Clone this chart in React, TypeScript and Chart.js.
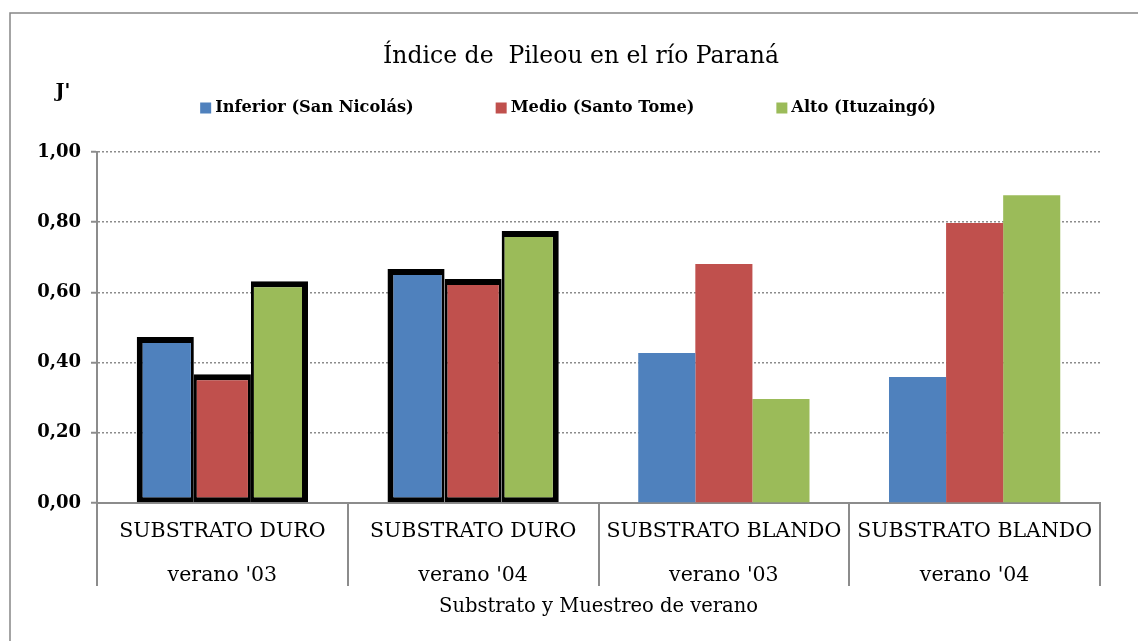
import React, { useEffect, useRef } from 'react';
import { Chart, registerables } from 'chart.js';

Chart.register(...registerables);

const categories: string[][] = [
  ['SUBSTRATO DURO', "verano '03"],
  ['SUBSTRATO DURO', "verano '04"],
  ['SUBSTRATO BLANDO', "verano '03"],
  ['SUBSTRATO BLANDO', "verano '04"],
];
const seriesNames = ['Inferior (San Nicolás)', 'Medio (Santo Tome)', 'Alto (Ituzaingó)'];
const seriesColors = ['#4F81BD', '#C0504D', '#9BBB59'];
const inferior = [0.473, 0.667, 0.427, 0.359];
const medio = [0.367, 0.638, 0.681, 0.798];
const alto = [0.632, 0.775, 0.296, 0.877];
const outlined = [true, true, false, false];
const yMin = 0;
const yMax = 1;
const yStep = 0.2;
const chartTitle = 'Índice de  Pileou en el río Paraná';
const yTitle = "J'";
const xTitle = 'Substrato y Muestreo de verano';

const FONT = '"DejaVu Serif", serif';

const decor = {
  id: 'decor',
  beforeDraw(chart: any) {
    const ctx = chart.ctx;
    ctx.save();
    ctx.strokeStyle = '#868686';
    ctx.lineWidth = 1.5;
    ctx.beginPath();
    ctx.moveTo(10, chart.height);
    ctx.lineTo(10, 13);
    ctx.lineTo(chart.width, 13);
    ctx.stroke();
    ctx.restore();
  },
  afterDraw(chart: any) {
    const ctx = chart.ctx;
    ctx.save();
    ctx.fillStyle = '#000';
    ctx.textBaseline = 'middle';
    ctx.textAlign = 'center';
    ctx.font = `23.5px ${FONT}`;
    ctx.fillText(chartTitle, 581, 57);
    ctx.font = `bold 19px ${FONT}`;
    ctx.fillText(yTitle, 63, 92);

    // legend
    const ds = chart.data.datasets;
    ctx.font = `bold 16.2px ${FONT}`;
    const box = 11;
    const gapText = 4;
    const gapItem = 82;
    const widths = ds.map((d: any) => ctx.measureText(d.label).width);
    const total = widths.reduce((a: number, w: number) => a + box + gapText + w, 0) + gapItem * (ds.length - 1);
    let x = 568 - total / 2;
    const ly = 108;
    ctx.textAlign = 'left';
    ds.forEach((d: any, i: number) => {
      ctx.fillStyle = d.backgroundColor;
      ctx.fillRect(x, ly - box / 2, box, box);
      ctx.fillStyle = '#000';
      ctx.fillText(d.label, x + box + gapText, ly);
      x += box + gapText + widths[i] + gapItem;
    });
    ctx.restore();
  },
};

export default function App() {
  const ref = useRef<HTMLCanvasElement | null>(null);
  useEffect(() => {
    if (!ref.current) return;
    const seriesData = [inferior, medio, alto];
    const chart = new Chart(ref.current, {
      type: 'bar',
      data: {
        labels: categories,
        datasets: seriesData.map((d, si) => ({
          label: seriesNames[si],
          data: d,
          backgroundColor: seriesColors[si],
          borderColor: '#000',
          borderSkipped: false,
          inflateAmount: 0,
          borderWidth: (c: any) =>
            outlined[c.dataIndex]
              ? { top: 6, bottom: 5, left: si === 0 ? 6 : 3, right: si === seriesData.length - 1 ? 6 : 3 }
              : 0,
          categoryPercentage: 0.683,
          barPercentage: 1,
        })),
      },
      options: {
        animation: false,
        responsive: false,
        maintainAspectRatio: false,
        layout: { padding: { top: 152, right: 38, bottom: 0, left: 0 } },
        plugins: {
          legend: { display: false },
          title: { display: false },
          tooltip: { enabled: false },
        },
        scales: {
          x: {
            offset: true,
            afterFit: (s: any) => {
              s.height = 138;
            },
            grid: {
              offset: true,
              drawOnChartArea: false,
              drawTicks: true,
              tickLength: 83,
              color: '#8c8c8c',
              tickColor: '#8c8c8c',
              tickWidth: 2,
              lineWidth: 2,
            },
            border: { display: true, color: '#8c8c8c', width: 2 },
            ticks: {
              color: '#000',
              autoSkip: false,
              maxRotation: 0,
              padding: -76,
              font: { family: FONT, size: 20.5, lineHeight: 2.15 },
            },
            title: {
              display: true,
              text: xTitle,
              color: '#000',
              font: { family: FONT, size: 19.5 },
              padding: { top: 0, bottom: 22 },
            },
          },
          y: {
            min: yMin,
            max: yMax,
            afterFit: (s: any) => {
              s.width = 97;
            },
            ticks: {
              stepSize: yStep,
              color: '#000',
              padding: 10,
              font: { family: FONT, size: 18, weight: 'bold' },
              callback: (v: any) => Number(v).toFixed(2).replace('.', ','),
            },
            grid: {
              color: '#8c8c8c',
              lineWidth: 1.5,
              tickLength: 6,
              tickColor: '#8c8c8c',
              tickWidth: 2,
              tickBorderDash: [],
            },
            border: { display: true, color: '#8c8c8c', width: 2, dash: [2, 2] },
          },
        },
      },
      plugins: [decor],
    });
    return () => chart.destroy();
  }, []);
  return (
    <div style={{ position: 'fixed', left: 0, top: 0, width: 1138, height: 641, background: '#fff' }}>
      <canvas ref={ref} width={1138} height={641} style={{ display: 'block' }} />
    </div>
  );
}
